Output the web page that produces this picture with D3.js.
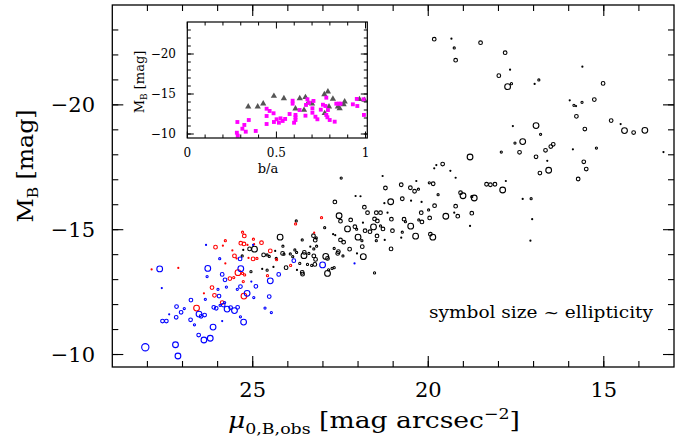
<!DOCTYPE html>
<html>
<head>
<meta charset="utf-8">
<script src="https://cdn.jsdelivr.net/npm/d3@7"></script>
<style>
  body { margin: 0; background: #fff; }
  text { font-family: "DejaVu Serif", serif; fill: #000; }
</style>
</head>
<body>
<div id="chart-area"></div>
<script>
// galaxies: [mu_0,B,obs, M_B, ellipticity]
var blueGals = [
  [27.65,-13.43,.5],[27.59,-12.66,.05],[27.57,-11.34,.3],[27.46,-11.34,.3],[28.06,-10.29,.65],
  [27.20,-10.39,.5],[27.13,-9.94,.5],[27.17,-11.92,.3],[27.04,-11.69,.3],[27.18,-11.49,.3],
  [27.38,-11.61,.05],[26.95,-11.84,.15],[26.76,-12.18,.3],[26.77,-11.39,.3],[26.66,-11.19,.15],
  [26.54,-10.78,.3],[26.39,-10.58,.5],[26.21,-10.65,.5],[26.13,-11.10,.5],[26.53,-11.62,.5],
  [26.47,-11.53,.3],[26.37,-11.58,.3],[26.28,-13.45,.5],[26.30,-13.12,.15],[26.35,-12.21,.15],
  [26.33,-14.39,.05],[25.96,-12.34,.3],[26.11,-11.89,.3],[26.04,-11.85,.3],[25.93,-11.97,.15],
  [25.99,-12.61,.15],[25.87,-13.21,.3],[25.79,-12.99,.3],[25.75,-12.70,.15],[25.80,-12.08,.15],
  [25.84,-11.98,.3],[25.73,-11.82,.5],[25.63,-11.88,.3],[25.52,-11.76,.5],[25.43,-11.89,.3],
  [25.35,-11.51,.15],[25.26,-11.30,.5],[25.44,-12.61,.15],[25.35,-12.72,.3],[25.16,-12.45,.5],
  [24.91,-12.73,.3],[24.97,-12.28,.15],[25.04,-12.92,.05],[25.34,-13.44,.5],[25.36,-13.83,.3],
  [25.94,-13.84,.15],[25.87,-11.34,.05],[24.65,-11.86,.15],[24.47,-11.68,.15],[24.53,-12.32,.3],
  [24.50,-12.95,.5],[24.26,-13.21,.3],[23.83,-13.76,.3],[24.99,-14.39,.05],[22.10,-13.65,.05],
  [23.01,-13.59,.5]
];

var redGals = [
  [27.88,-13.41,.05],[27.12,-13.47,.05],[26.60,-11.86,.5],[26.39,-12.45,.05],[26.16,-12.68,.3],
  [26.09,-12.37,.3],[25.87,-12.08,.3],[26.06,-14.30,.3],[25.78,-14.56,.15],[25.85,-14.36,.05],
  [25.78,-13.65,.05],[25.52,-13.95,.3],[25.58,-14.17,.05],[25.65,-13.04,.3],[25.54,-13.08,.15],
  [25.42,-13.28,.5],[25.29,-13.25,.15],[25.23,-13.19,.15],[25.27,-12.92,.15],[25.25,-12.34,.5],
  [25.29,-14.90,.15],[25.24,-14.75,.3],[25.34,-14.46,.3],[25.25,-14.43,.3],[25.15,-14.39,.05],
  [24.98,-14.62,.15],[24.96,-14.42,.05],[24.75,-14.48,.3],[24.99,-13.83,.3],[24.88,-13.85,.15],
  [24.58,-13.16,.15],[24.50,-14.15,.3],[24.32,-13.80,.15],[23.78,-15.23,.15],[25.12,-13.87,.05],
  [25.46,-13.85,.05],[23.04,-15.48,.15],[23.25,-14.88,.05],[23.92,-13.57,.15]
];

var blackGals = [
  [24.22,-14.70,.5],[24.95,-14.22,.5],[25.05,-13.32,.15],[24.14,-14.34,.15],[24.15,-14.05,.3],
  [24.69,-13.99,.3],[24.59,-13.99,.15],[24.33,-13.85,.15],[24.05,-13.48,.3],[24.41,-13.51,.05],
  [25.30,-13.95,.15],[23.66,-13.65,.15],[24.59,-13.38,.15],[24.73,-13.43,.05],[25.09,-14.23,.3],
  [25.27,-14.19,.05],[23.80,-14.19,.15],[23.75,-14.09,.15],[23.86,-13.92,.15],[23.93,-14.03,.15],
  [23.76,-15.35,.15],[24.36,-14.15,.05],[24.11,-14.02,.15],[24.53,-13.93,.15],
  [22.48,-17.07,.15],[21.30,-17.15,.05],[22.66,-16.11,.3],[22.07,-16.35,.05],[21.93,-16.34,.05],
  [21.22,-16.67,.3],[21.07,-16.12,.5],[21.25,-16.06,.05],[20.77,-16.80,.3],[20.51,-16.68,.3],
  [20.39,-16.54,.3],[20.28,-16.62,.15],[20.34,-16.95,.05],[19.97,-16.88,.15],[19.86,-16.84,.3],
  [19.72,-16.40,.15],[19.59,-17.63,.3],[19.77,-17.59,.05],[20.74,-16.24,.3],[20.49,-16.16,.05],
  [20.19,-16.11,.05],[19.82,-15.96,.3],[19.99,-15.79,.15],[20.20,-15.68,.3],[21.82,-15.90,.3],
  [21.73,-15.68,.3],[21.48,-15.68,.3],[21.36,-15.68,.3],[21.16,-15.68,.05],[22.54,-15.56,.5],
  [22.50,-15.34,.3],[22.21,-15.39,.3],[21.86,-15.28,.05],[21.53,-15.43,.3],[21.45,-15.35,.3],
  [21.05,-15.42,.3],[20.69,-15.42,.3],[20.65,-15.32,.15],[20.27,-15.39,.15],[20.18,-15.31,.3],
  [19.96,-15.47,.3],[19.50,-15.54,.5],[20.50,-15.14,.5],[20.74,-14.90,.15],[21.56,-15.11,.5],
  [21.36,-15.15,.15],[21.29,-15.03,.3],[21.02,-14.96,.3],[22.30,-15.03,.5],[22.09,-15.12,.3],
  [22.04,-15.02,.15],[21.80,-14.96,.3],[22.00,-14.70,.5],[21.66,-14.92,.3],[21.46,-14.75,.3],
  [21.24,-14.59,.05],[20.36,-14.74,.5],[19.94,-14.82,.3],[19.87,-14.70,.5],[20.77,-14.68,.05],
  [22.95,-15.08,.15],[22.71,-14.82,.05],[22.65,-14.78,.05],[22.50,-14.59,.3],[22.41,-14.50,.3],
  [22.24,-14.22,.3],[21.88,-14.32,.3],[21.89,-14.56,.15],[21.48,-14.56,.15],[21.06,-14.23,.3],
  [21.85,-13.92,.5],[22.03,-14.05,.05],[22.56,-14.12,.3],[22.58,-14.05,.3],[22.68,-14.25,.15],
  [22.43,-13.95,.15],[22.92,-13.93,.5],[22.87,-13.85,.3],[23.18,-14.34,.15],[23.26,-14.23,.15],
  [23.27,-14.76,.3],[23.22,-14.58,.3],[23.19,-14.67,.15],[23.59,-14.59,.15],[23.36,-14.32,.05],
  [23.40,-14.05,.15],[23.26,-13.95,.3],[23.21,-13.81,.3],[23.44,-13.61,.15],[23.54,-13.96,.5],
  [23.53,-14.09,.3],[23.59,-13.29,.3],[23.58,-13.22,.3],[22.84,-13.39,.15],[22.74,-13.45,.15],
  [22.68,-13.48,.15],[22.87,-13.25,.5],[23.23,-13.61,.3],[23.32,-13.57,.15],[23.74,-13.39,.05],
  [21.53,-13.27,.15],
  [17.31,-18.53,.5],[17.53,-18.47,.15],[17.40,-18.10,.3],[17.92,-18.11,.15],[18.81,-17.91,.5],
  [19.22,-17.08,.05],[19.37,-17.36,.05],[18.34,-16.82,.3],[18.23,-16.80,.3],[18.10,-16.82,.3],
  [17.88,-16.59,.5],[17.79,-16.95,.05],[19.08,-16.48,.3],[19.01,-16.36,.5],[18.76,-16.32,.15],
  [18.69,-16.27,.5],[19.22,-15.94,.3],[19.26,-15.68,.05],[19.16,-15.54,.3],[18.76,-15.66,.3],
  [18.81,-15.15,.05],[17.31,-16.23,.05],[17.07,-16.24,.15],[17.04,-15.42,.05],[17.09,-14.56,.05],
  [19.83,-22.63,.3],[19.34,-22.65,.05],[19.26,-22.28,.15],[19.22,-21.79,.3],[18.51,-22.49,.3],
  [17.81,-22.09,.3],[17.99,-21.17,.3],[17.67,-21.41,.05],[17.74,-20.73,.5],[17.63,-20.85,.15],
  [16.97,-20.84,.05],[16.85,-21.00,.15],[15.61,-21.53,.05],[15.02,-20.86,.3],[15.97,-20.18,.05],
  [15.85,-19.98,.15],[15.79,-19.95,.05],[15.62,-20.10,.15],[15.27,-20.21,.3],[15.78,-19.54,.3],
  [14.79,-19.37,.3],[14.52,-19.23,.05],[14.41,-18.97,.5],[14.15,-18.89,.3],[13.83,-18.98,.5],
  [15.54,-19.03,.3],[17.59,-19.15,.05],[16.93,-19.17,.5],[16.80,-18.82,.15],[16.93,-17.92,.3],
  [16.66,-18.18,.3],[16.51,-18.33,.3],[16.44,-18.42,.3],[15.88,-18.22,.05],[15.21,-18.27,.15],
  [13.30,-18.11,.05],[16.61,-17.76,.05],[16.82,-17.27,.3],[16.57,-17.38,.5],[15.57,-17.72,.3],
  [15.50,-17.43,.3],[15.73,-17.03,.3],[19.83,-17.46,.05]
];

// inset: [b/a, M_B]
var insetTriangles = [
  [.342,-13.41],[.395,-13.41],[.426,-13.79],[.486,-14.75],[.542,-14.46],[.607,-13.16],
  [.631,-14.46],[.663,-14.59],[.678,-13.91],[.700,-13.79],[.655,-13.00],[.769,-14.96],
  [.789,-15.29],[.817,-14.38],[.771,-12.59],[.795,-13.41],[.845,-13.41],[.855,-13.21],
  [.877,-13.71],[.883,-14.04],[.966,-14.34],[.994,-14.25]
];
var insetSquares = [
  [.281,-11.50],[.309,-10.66],[.320,-11.13],[.345,-11.75],[.278,-10.16],[.283,-9.79],
  [.328,-10.29],[.384,-10.38],[.445,-13.16],[.462,-12.88],[.484,-12.59],[.445,-12.25],
  [.445,-11.25],[.486,-11.50],[.501,-11.84],[.514,-11.41],[.523,-11.96],[.535,-11.63],
  [.549,-11.88],[.574,-12.50],[.591,-14.16],[.591,-13.79],[.607,-12.38],[.607,-12.09],
  [.607,-11.75],[.599,-11.41],[.630,-13.00],[.663,-12.29],[.666,-13.63],[.674,-14.34],
  [.683,-13.91],[.702,-13.21],[.702,-12.66],[.719,-12.16],[.730,-11.84],[.708,-14.13],
  [.749,-13.04],[.761,-13.66],[.775,-13.50],[.780,-14.54],[.789,-13.00],[.786,-12.09],
  [.799,-11.75],[.827,-11.54],[.780,-12.38],[.836,-13.79],[.851,-13.79],[.860,-13.79],
  [.929,-13.71],[.954,-13.50],[.951,-14.38],[.989,-14.34],[.991,-12.38]
];

var xMajor = [25, 20, 15];
var yMajor = [-20, -15, -10];
var insetXMajor = [0, 0.5, 1];
var insetYMajor = [-20, -15, -10];

var svg = d3.select("#chart-area")
  .append("svg")
    .attr("width", 697)
    .attr("height", 439);

var x = d3.scaleLinear().domain([29, 13]).range([112.3, 674]);
var y = d3.scaleLinear().domain([-9.5, -24]).range([367, 5]);
var r = d3.scaleLinear().domain([0, 0.7]).range([0.3, 3.9]);

var minus = function(d){ return d < 0 ? "\u2212" + Math.abs(d) : String(d); };

// frame with inward ticks on all four sides
function frame(g, xs, ys, xMaj, xMin, yMaj, yMin, big, small, sw){
  var x0 = xs.range()[0], x1 = xs.range()[1];
  var y0 = ys.range()[0], y1 = ys.range()[1];
  var t = g.append("g").attr("stroke", "#000").attr("stroke-width", sw);
  function ticks(vals, len, horiz){
    vals.forEach(function(v){
      if (horiz) {
        var px = xs(v);
        t.append("line").attr("x1", px).attr("x2", px).attr("y1", y0).attr("y2", y0 - len);
        t.append("line").attr("x1", px).attr("x2", px).attr("y1", y1).attr("y2", y1 + len);
      } else {
        var py = ys(v);
        t.append("line").attr("y1", py).attr("y2", py).attr("x1", x0).attr("x2", x0 + len);
        t.append("line").attr("y1", py).attr("y2", py).attr("x1", x1).attr("x2", x1 - len);
      }
    });
  }
  ticks(xMin, small, true);
  ticks(xMaj, big, true);
  ticks(yMin, small, false);
  ticks(yMaj, big, false);
  g.append("rect")
    .attr("x", x0).attr("y", y1)
    .attr("width", x1 - x0).attr("height", y0 - y1)
    .attr("fill", "none").attr("stroke", "#000").attr("stroke-width", sw + 0.2);
}

var main = svg.append("g");
frame(main, x, y, xMajor, d3.range(14, 29), yMajor, d3.range(-23, -9), 11, 6, 1.1);

// tick labels
main.selectAll(".xl").data(xMajor).join("text")
  .attr("x", function(d){ return x(d); })
  .attr("y", 397)
  .attr("text-anchor", "middle")
  .attr("font-size", "21px")
  .text(function(d){ return d; });

main.selectAll(".yl").data(yMajor).join("text")
  .attr("x", 95)
  .attr("y", function(d){ return y(d) + 7.5; })
  .attr("text-anchor", "end")
  .attr("font-size", "21px")
  .text(minus);

// Y label
var yLab = main.append("text")
  .attr("transform", "translate(33,166) rotate(-90)")
  .attr("text-anchor", "middle")
  .attr("font-size", "23px")
  .attr("textLength", 113)
  .attr("lengthAdjust", "spacingAndGlyphs");
yLab.append("tspan").text("M");
yLab.append("tspan").attr("font-size", "15px").attr("dy", 5).text("B");
yLab.append("tspan").attr("dy", -5).text(" [mag]");

// X label
var xLab = main.append("text")
  .attr("x", 374).attr("y", 428)
  .attr("text-anchor", "middle")
  .attr("font-size", "23px")
  .attr("textLength", 292)
  .attr("lengthAdjust", "spacingAndGlyphs");
xLab.append("tspan").attr("font-style", "italic").text("\u03bc");
xLab.append("tspan").attr("font-size", "15px").attr("dy", 6).text("0,B,obs");
xLab.append("tspan").attr("dy", -6).text(" [mag arcsec");
xLab.append("tspan").attr("font-size", "15px").attr("dy", -9).text("\u22122");
xLab.append("tspan").attr("dy", 9).text("]");

// galaxies
function drawGals(data, color){
  main.append("g").selectAll("circle")
    .data(data)
    .join("circle")
      .attr("cx", function(d){ return x(d[0]); })
      .attr("cy", function(d){ return y(d[1]); })
      .attr("r", function(d){ return r(d[2]); })
      .attr("fill", "none")
      .attr("stroke", color)
      .attr("stroke-width", 1.1);
}
drawGals(blackGals, "#000");
drawGals(redGals, "#ff0000");
drawGals(blueGals, "#0000ff");

main.append("text")
  .attr("x", 653).attr("y", 318)
  .attr("text-anchor", "end")
  .attr("font-size", "16px")
  .attr("textLength", 224)
  .attr("lengthAdjust", "spacingAndGlyphs")
  .text("symbol size ~ ellipticity");

// inset
var ix = d3.scaleLinear().domain([0, 1.01]).range([187.3, 367.3]);
var iy = d3.scaleLinear().domain([-9.5, -24]).range([138, 22]);

var inset = svg.append("g");
inset.append("rect")
  .attr("x", 187.3).attr("y", 22).attr("width", 180).attr("height", 116)
  .attr("fill", "#fff");

var sq = d3.symbol().type(d3.symbolSquare).size(15);
var tri = d3.symbol().type(d3.symbolTriangle).size(17);

inset.append("g").selectAll("path")
  .data(insetTriangles)
  .join("path")
    .attr("d", tri)
    .attr("transform", function(d){ return "translate(" + ix(d[0]) + "," + iy(d[1]) + ")"; })
    .attr("fill", "#555");

inset.append("g").selectAll("path")
  .data(insetSquares)
  .join("path")
    .attr("d", sq)
    .attr("transform", function(d){ return "translate(" + ix(d[0]) + "," + iy(d[1]) + ")"; })
    .attr("fill", "#ff00ff");

frame(inset, ix, iy, insetXMajor, d3.range(0.1, 1, 0.1).filter(function(v){ return Math.abs(v - 0.5) > 0.01; }),
  insetYMajor, d3.range(-23, -9), 6.5, 3.5, 1);

inset.selectAll(".ixl").data(insetXMajor).join("text")
  .attr("x", function(d){ return ix(d); })
  .attr("y", 157)
  .attr("text-anchor", "middle")
  .attr("font-size", "12px")
  .text(function(d){ return d; });

inset.selectAll(".iyl").data(insetYMajor).join("text")
  .attr("x", 176)
  .attr("y", function(d){ return iy(d) + 4.3; })
  .attr("text-anchor", "end")
  .attr("font-size", "12px")
  .text(minus);

inset.append("text")
  .attr("x", 268).attr("y", 173)
  .attr("text-anchor", "middle")
  .attr("font-size", "13px")
  .text("b/a");

var iyLab = inset.append("text")
  .attr("transform", "translate(144,82) rotate(-90)")
  .attr("text-anchor", "middle")
  .attr("font-size", "13px");
iyLab.append("tspan").text("M");
iyLab.append("tspan").attr("font-size", "9px").attr("dy", 3).text("B");
iyLab.append("tspan").attr("dy", -3).text(" [mag]");
</script>
</body>
</html>
